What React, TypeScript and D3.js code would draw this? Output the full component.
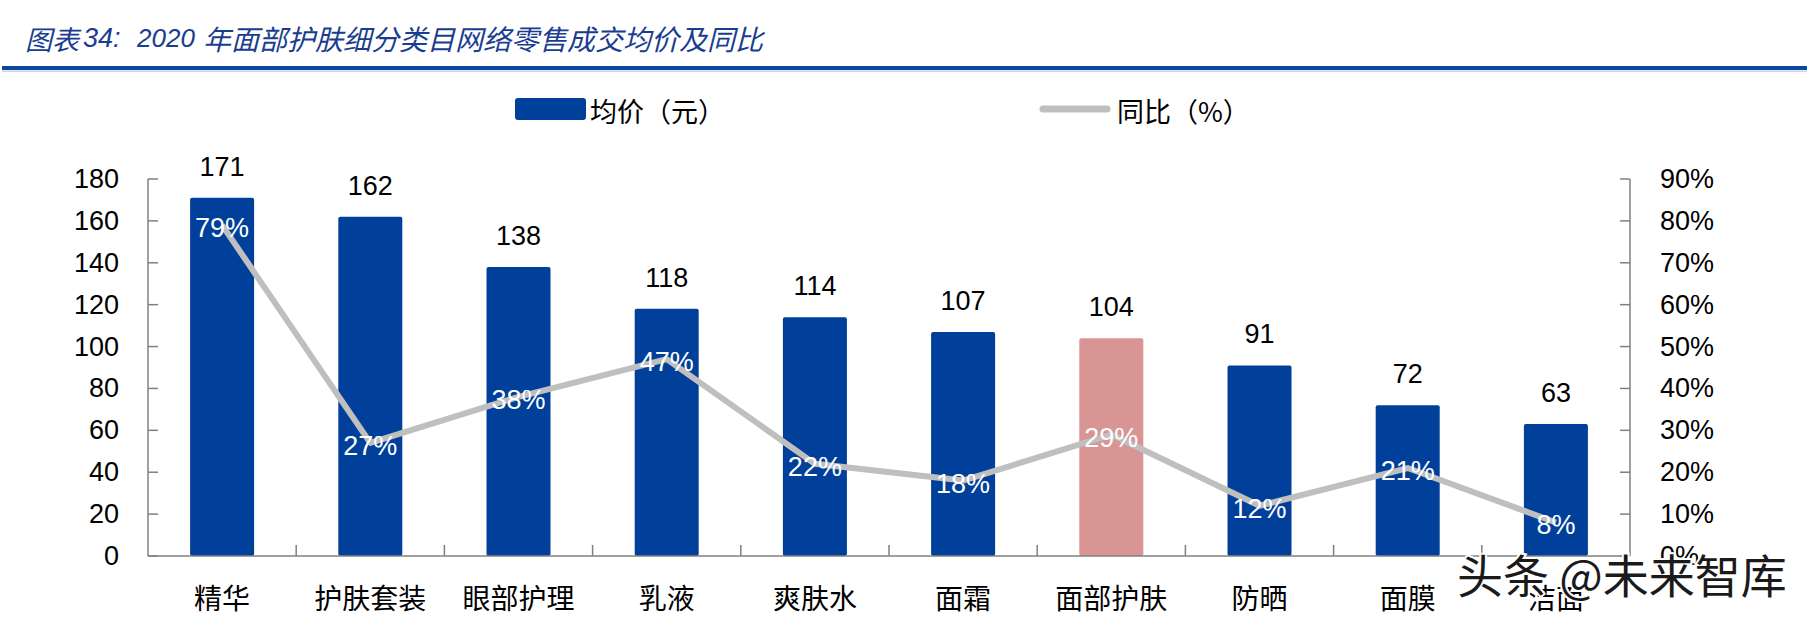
import React, { useEffect } from 'react';
import { scaleBand, scaleLinear, line } from 'd3';

const categories = ['精华', '护肤套装', '眼部护理', '乳液', '爽肤水', '面霜', '面部护肤', '防晒', '面膜', '洁面'];
const avgPrice = [171, 162, 138, 118, 114, 107, 104, 91, 72, 63];
const yoy = [79, 27, 38, 47, 22, 18, 29, 12, 21, 8];
const leftTicks = [0, 20, 40, 60, 80, 100, 120, 140, 160, 180];
const rightTicks = [0, 10, 20, 30, 40, 50, 60, 70, 80, 90];
const highlight = '面部护肤';

const W = 1807;
const H = 618;
const plot = { left: 148, right: 1630, top: 179, bottom: 556 };
const BLUE = '#00409A';
const PINK = '#D99594';
const GRAY = '#BFBFBF';
const AXIS = '#808080';
const TITLE = '#1A3D8F';
const NUM_FONT = '"Liberation Sans", Arial, sans-serif';
const CJK_FONT = '"Noto Sans CJK SC", sans-serif';

function App() {
  useEffect(() => {
    document.body.style.margin = '0';
  }, []);

  const x = scaleBand().domain(categories).range([plot.left, plot.right]);
  const yL = scaleLinear().domain([0, 180]).range([plot.bottom, plot.top]);
  const yR = scaleLinear().domain([0, 90]).range([plot.bottom, plot.top]);
  const barW = 64;
  const cx = (c: string) => (x(c) as number) + x.bandwidth() / 2;

  const pts = categories.map((c, i) => [cx(c), yR(yoy[i])] as [number, number]);
  const path = line()(pts) as string;

  return (
    <svg width={W} height={H} style={{ display: 'block', background: '#fff' }}>
      {/* title */}
      <text y={38} dominantBaseline="central" fontFamily={CJK_FONT} fontStyle="italic" fontSize={27} fill={TITLE}>
        <tspan x={25}>图表</tspan>
        <tspan x={83} fontFamily={NUM_FONT} fontSize={27}>34:</tspan>
        <tspan x={137} fontFamily={NUM_FONT} fontSize={26}>2020</tspan>
        <tspan x={203} fontSize={28}>年面部护肤细分类目网络零售成交均价及同比</tspan>
      </text>
      <rect x={2} y={66} width={W - 2} height={4} fill="#0B47A0" />
      <rect x={2} y={70.5} width={W - 2} height={1.5} fill="#C9D6EA" />

      {/* legend */}
      <rect x={515} y={98} width={71} height={22} rx={3} fill={BLUE} />
      <text x={590} y={110} dominantBaseline="central" fontFamily={CJK_FONT} fontSize={27} fill="#000">
        均价（元）
      </text>
      <line x1={1043} x2={1107} y1={109} y2={109} stroke={GRAY} strokeWidth={7} strokeLinecap="round" />
      <text x={1117} y={110} dominantBaseline="central" fontFamily={CJK_FONT} fontSize={27} fill="#000">
        同比（%）
      </text>

      {/* bars */}
      {categories.map((c, i) => (
        <rect
          key={c}
          x={cx(c) - barW / 2}
          y={yL(avgPrice[i])}
          width={barW}
          height={plot.bottom - yL(avgPrice[i])}
          rx={2}
          fill={c === highlight ? PINK : BLUE}
        />
      ))}
      {categories.map((c, i) => (
        <text
          key={c}
          x={cx(c)}
          y={yL(avgPrice[i]) - 22}
          textAnchor="middle"
          fontFamily={NUM_FONT}
          fontSize={27}
          fill="#000"
        >
          {avgPrice[i]}
        </text>
      ))}

      {/* axes */}
      <line x1={plot.left} x2={plot.left} y1={plot.top} y2={plot.bottom} stroke={AXIS} strokeWidth={1.5} />
      <line x1={plot.right} x2={plot.right} y1={plot.top} y2={plot.bottom} stroke={AXIS} strokeWidth={1.5} />
      <line x1={plot.left} x2={plot.right} y1={plot.bottom} y2={plot.bottom} stroke={AXIS} strokeWidth={1.5} />
      {leftTicks.map((t) => (
        <g key={t}>
          <line x1={plot.left} x2={plot.left + 10} y1={yL(t)} y2={yL(t)} stroke={AXIS} strokeWidth={1.5} />
          <text
            x={119}
            y={yL(t)}
            textAnchor="end"
            dominantBaseline="central"
            fontFamily={NUM_FONT}
            fontSize={27}
            fill="#000"
          >
            {t}
          </text>
        </g>
      ))}
      {rightTicks.map((t) => (
        <g key={t}>
          <line x1={plot.right - 10} x2={plot.right} y1={yR(t)} y2={yR(t)} stroke={AXIS} strokeWidth={1.5} />
          <text
            x={1660}
            y={yR(t)}
            dominantBaseline="central"
            fontFamily={NUM_FONT}
            fontSize={27}
            fill="#000"
          >
            {t}%
          </text>
        </g>
      ))}
      {categories.slice(1).map((c) => (
        <line
          key={c}
          x1={x(c) as number}
          x2={x(c) as number}
          y1={plot.bottom - 11}
          y2={plot.bottom}
          stroke={AXIS}
          strokeWidth={1.5}
        />
      ))}
      {categories.map((c) => (
        <text
          key={c}
          x={cx(c)}
          y={597}
          textAnchor="middle"
          dominantBaseline="central"
          fontFamily={CJK_FONT}
          fontSize={28}
          fill="#000"
        >
          {c}
        </text>
      ))}

      {/* yoy line */}
      <path d={path} fill="none" stroke={GRAY} strokeWidth={6} strokeLinejoin="round" />
      {categories.map((c, i) => (
        <text
          key={c}
          x={cx(c)}
          y={yR(yoy[i]) + 3}
          textAnchor="middle"
          dominantBaseline="central"
          fontFamily={NUM_FONT}
          fontSize={27}
          fill="#fff"
        >
          {yoy[i]}%
        </text>
      ))}

      {/* watermark */}
      <text
        x={1457}
        y={573}
        dominantBaseline="central"
        fontFamily={CJK_FONT}
        fontSize={46}
        fill="#1a1a1a"
        stroke="#fff"
        strokeWidth={4}
        style={{ paintOrder: 'stroke' }}
      >
        头条 @未来智库
      </text>
    </svg>
  );
}

export default App;
